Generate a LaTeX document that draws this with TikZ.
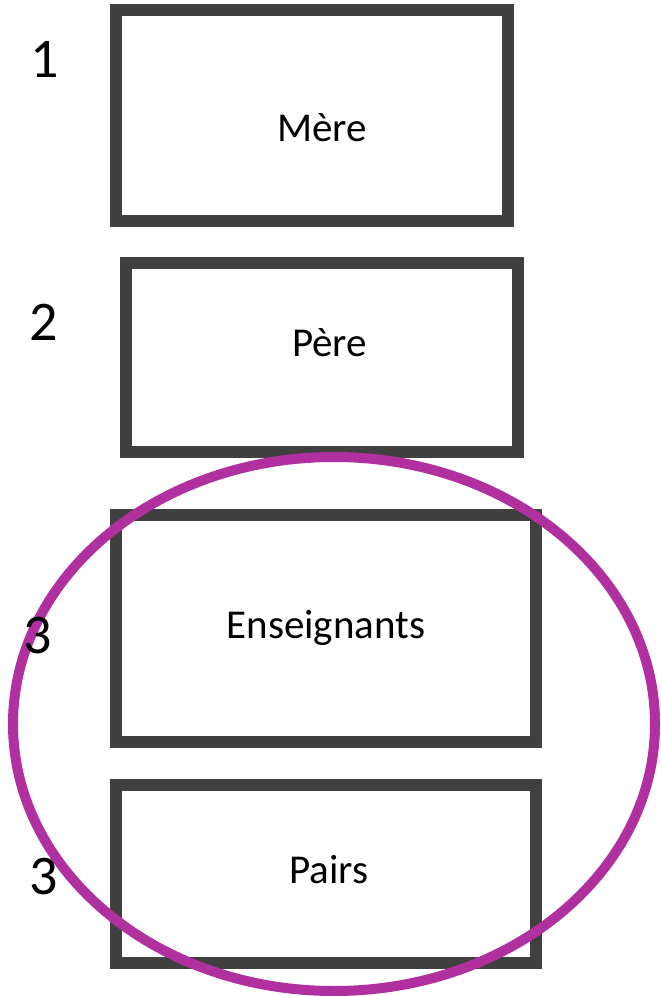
\documentclass[tikz,border=0pt]{standalone}
\usepackage{fontspec}
\setmainfont{Carlito}
\definecolor{boxgray}{HTML}{404040}
\definecolor{ringpurple}{HTML}{B0309F}
\begin{document}
\begin{tikzpicture}[x=1pt,y=1pt,
  box/.style={draw=boxgray,line width=12pt,rectangle,inner sep=0pt,fill=none},
  lbl/.style={anchor=base,inner sep=0pt,font=\fontsize{41}{48}\selectfont},
  num/.style={anchor=base,inner sep=0pt,font=\fontsize{56}{64}\selectfont}]
\useasboundingbox (0,0) rectangle (661,-996);
% boxes
\node[box,minimum width=392pt,minimum height=211pt] (mere) at (312,-115.5) {};
\node[box,minimum width=392pt,minimum height=189pt] (pere) at (322,-357.5) {};
\node[box,minimum width=420pt,minimum height=227pt] (ens) at (326,-628.5) {};
\node[box,minimum width=420pt,minimum height=178pt] (pairs) at (326,-874) {};
% labels
\node[lbl] (tmere) at (322,-141) {Mère};
\node[lbl] (tpere) at (329.5,-356) {Père};
\node[lbl] (tens) at (326,-638) {Enseignants};
\node[lbl] (tpairs) at (329,-883) {Pairs};
% ellipse
\draw[ringpurple,line width=10pt] (334,-724) ellipse [x radius=321, y radius=267];
% numbers
\node[num] (n1) at (45,-77) {1};
\node[num] (n2) at (44,-340) {2};
\node[num] (n3a) at (38,-653) {3};
\node[num] (n3b) at (44,-894) {3};
\end{tikzpicture}
\end{document}
